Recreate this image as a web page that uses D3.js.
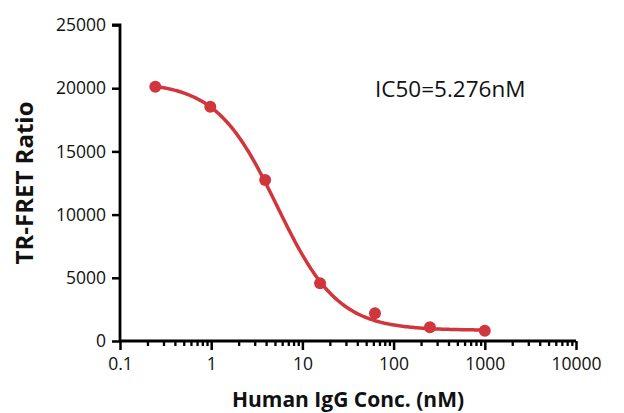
<!DOCTYPE html>
<html><head><meta charset="utf-8">
<script src="https://cdn.jsdelivr.net/npm/d3@7"></script>
<style>body{margin:0;background:#fff}svg{display:block}</style>
</head><body>
<svg id="c" width="624" height="413"></svg>
<script>
// Data
const conc = [0.244, 0.977, 3.906, 15.625, 62.5, 250, 1000];
const ratio = [20120, 18540, 12740, 4560, 2190, 1080, 810];
// 4PL fit parameters (IC50 from the chart annotation)
const fitTop = 20500, fitBottom = 850, fitIC50 = 5.276, fitHill = 1.3;
const xTicks = [0.1, 1, 10, 100, 1000, 10000];
const xTickLabels = ["0.1", "1", "10", "100", "1000", "10000"];
const yTicks = [0, 5000, 10000, 15000, 20000, 25000];
const annotation = "IC50=5.276nM";
const xTitle = "Human IgG Conc. (nM)";
const yTitle = "TR-FRET Ratio";

const svg = d3.select("#c");
const red = "#d0363c";
const font = "'Open Sans', sans-serif";
const x = d3.scaleLog().domain([0.1, 10000]).range([120, 576]);
const y = d3.scaleLinear().domain([0, 25000]).range([341, 25]);

// y axis
const ya = svg.append("g").attr("transform", "translate(120,0)")
  .call(d3.axisLeft(y).tickValues(yTicks).tickSize(8).tickPadding(6).tickFormat(d3.format("d")));
ya.select(".domain").attr("stroke-width", 2.8).attr("d", `M-8,${y(25000)}H0V${y(0)+1}`);
ya.selectAll(".tick line").attr("stroke-width", 2.5);
ya.selectAll("text").attr("font-family", font).attr("font-size", 17.5).attr("fill", "#111");

// x axis: minor ticks
const minor = [];
for (let e = -1; e < 4; e++) for (let k = 2; k <= 9; k++) minor.push(k * Math.pow(10, e));
const xm = svg.append("g").attr("transform", "translate(0,341)")
  .call(d3.axisBottom(x).tickValues(minor).tickSize(5).tickFormat(""));
xm.select(".domain").remove();
xm.selectAll(".tick line").attr("stroke-width", 2.3);
const xa = svg.append("g").attr("transform", "translate(0,341)")
  .call(d3.axisBottom(x).tickValues(xTicks).tickSize(9).tickPadding(8)
    .tickFormat((d, i) => xTickLabels[i]));
xa.select(".domain").attr("stroke-width", 2.8).attr("d", `M${x(0.1)-1},0H${x(10000)}`);
xa.selectAll(".tick line").attr("stroke-width", 2.5);
xa.selectAll("text").attr("font-family", font).attr("font-size", 17.5).attr("fill", "#111");

// fit curve
const curvePts = d3.range(0, 201).map(i => {
  const lx = Math.log10(conc[0]) + (Math.log10(conc[conc.length-1]) - Math.log10(conc[0])) * i / 200;
  const c = Math.pow(10, lx);
  return [c, fitBottom + (fitTop - fitBottom) / (1 + Math.pow(c / fitIC50, fitHill))];
});
svg.append("path").datum(curvePts)
  .attr("d", d3.line().x(d => x(d[0])).y(d => y(d[1])))
  .attr("fill", "none").attr("stroke", red).attr("stroke-width", 3.5);

// points
svg.selectAll("circle.p").data(conc).join("circle")
  .attr("cx", d => x(d)).attr("cy", (d, i) => y(ratio[i])).attr("r", 6).attr("fill", red);

// annotation
svg.append("text").attr("x", 375).attr("y", 97).text(annotation)
  .attr("font-family", font).attr("font-size", 22.5).attr("fill", "#111");

// titles
svg.append("text").attr("transform", "translate(33,183) rotate(-90)").attr("text-anchor", "middle")
  .text(yTitle).attr("font-family", font).attr("font-weight", "bold").attr("font-size", 24).attr("fill", "#111");
svg.append("text").attr("x", 348).attr("y", 407).attr("text-anchor", "middle")
  .text(xTitle).attr("font-family", font).attr("font-weight", "bold").attr("font-size", 21).attr("fill", "#111");
</script>
</body></html>
